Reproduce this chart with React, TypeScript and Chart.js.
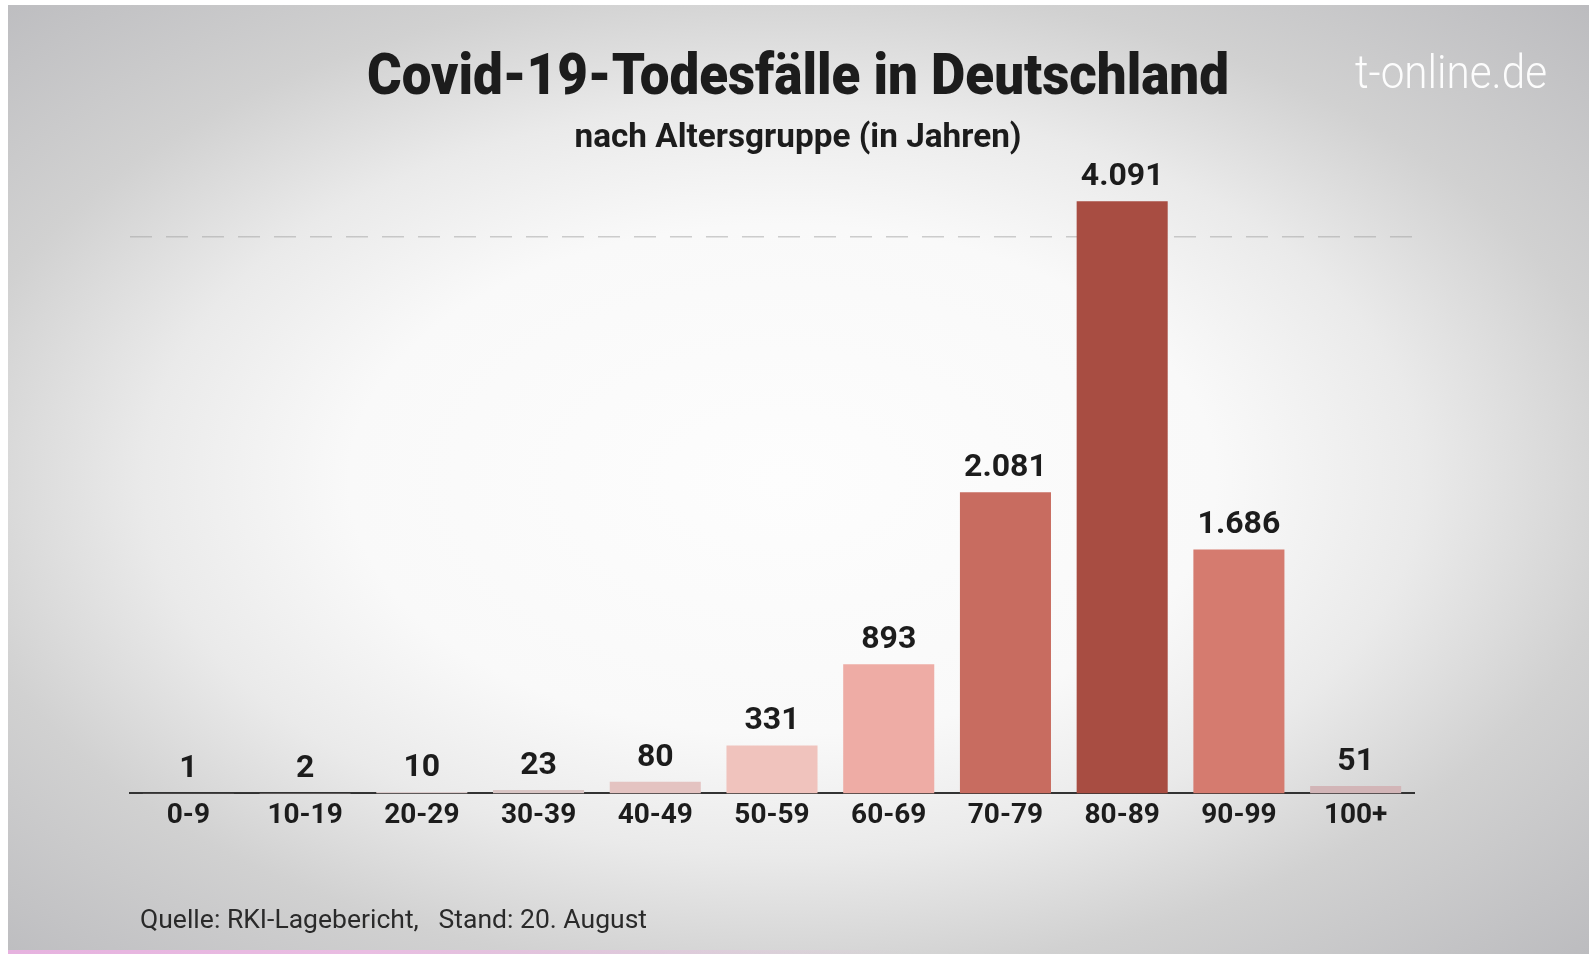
import React, { useEffect, useRef } from "react";
import { Chart, registerables } from "chart.js";

Chart.register(...registerables);

const ageGroups = ["0-9", "10-19", "20-29", "30-39", "40-49", "50-59", "60-69", "70-79", "80-89", "90-99", "100+"];
const deaths = [1, 2, 10, 23, 80, 331, 893, 2081, 4091, 1686, 51];
const barColors = ["#d9c9c9", "#d9c9c9", "#d9c9c9", "#d8c4c3", "#e4c3c1", "#f0c3bd", "#eeaca5", "#c86c60", "#a84d42", "#d57b6f", "#d2b5b7"];
const referenceLineValue = 3846;
const yMax = 4100;

const titleText = "Covid-19-Todesfälle in Deutschland";
const subtitleText = "nach Altersgruppe (in Jahren)";
const sourceText = "Quelle: RKI-Lagebericht,   Stand: 20. August";
const brandText = "t-online.de";

function formatDe(v: number): string {
  return String(v).replace(/\B(?=(\d{3})+(?!\d))/g, ".");
}

function drawFitted(ctx: CanvasRenderingContext2D, text: string, x: number, y: number, font: string, color: string, align: CanvasTextAlign, targetWidth?: number) {
  ctx.save();
  ctx.font = font;
  const w = ctx.measureText(text).width;
  const s = targetWidth ? targetWidth / w : 1;
  ctx.translate(x, y);
  ctx.scale(s, 1);
  ctx.textAlign = align;
  ctx.textBaseline = "middle";
  ctx.fillStyle = color;
  ctx.fillText(text, 0, 0);
  ctx.restore();
}

const textPlugin = {
  id: "textPlugin",
  afterDraw(chart: any) {
    const ctx = chart.ctx as CanvasRenderingContext2D;
    drawFitted(ctx, titleText, 798, 80, "900 57px Roboto", "#1c1c1c", "center", 862);
    drawFitted(ctx, subtitleText, 798, 138, "bold 34px Roboto", "#1c1c1c", "center", 447);
    drawFitted(ctx, sourceText, 140, 921, "26px Roboto", "#2a2a2a", "left", 507);
    drawFitted(ctx, brandText, 1355, 76, "300 46px Roboto", "rgba(255,255,255,0.95)", "left", 192);

    const meta = chart.getDatasetMeta(0);
    ctx.save();
    ctx.font = "bold 32px Roboto";
    ctx.fillStyle = "#1c1c1c";
    ctx.textAlign = "center";
    ctx.textBaseline = "alphabetic";
    meta.data.forEach((bar: any, i: number) => {
      ctx.fillText(formatDe(deaths[i]), bar.x, bar.y - 16);
    });
    ctx.restore();
  },
};

export default function App() {
  const canvasRef = useRef<HTMLCanvasElement | null>(null);

  useEffect(() => {
    if (!canvasRef.current) return;
    const chart = new Chart(canvasRef.current, {
      type: "bar",
      data: {
        labels: ageGroups,
        datasets: [
          {
            data: deaths,
            backgroundColor: barColors,
            borderWidth: 0,
            barPercentage: 0.78,
            categoryPercentage: 1,
          },
        ],
      },
      options: {
        animation: false,
        responsive: true,
        maintainAspectRatio: false,
        layout: { padding: { left: 130, right: 175, top: 200, bottom: 115 } },
        plugins: {
          legend: { display: false },
          tooltip: { enabled: false },
          title: { display: false },
        },
        scales: {
          x: {
            grid: { display: false, drawTicks: false },
            border: { display: true, color: "#333333", width: 2 },
            ticks: {
              color: "#1c1c1c",
              font: { family: "Roboto", weight: "bold", size: 28 },
              padding: 6,
              maxRotation: 0,
            },
          },
          y: {
            min: 0,
            max: yMax,
            display: true,
            border: { display: false, dash: [22, 14] },
            ticks: { display: false },
            grid: {
              drawTicks: false,
              color: "rgba(160,160,160,0.5)",
              lineWidth: 1.5,
            },
            afterBuildTicks: (scale: any) => {
              scale.ticks = [{ value: referenceLineValue }];
            },
          } as any,
        },
      },
      plugins: [textPlugin],
    } as any);
    return () => chart.destroy();
  }, []);

  return (
    <div style={{ position: "fixed", left: 0, top: 0, width: 1589, height: 954, background: "#ffffff", overflow: "hidden" }}>
      <div
        style={{
          position: "absolute",
          left: 8,
          top: 5,
          right: 0,
          bottom: 0,
          background:
            "radial-gradient(ellipse farthest-corner at 49% 50%, #fdfdfd 0%, #f9f9f9 38%, #eaeaea 56%, #d1d1d1 74%, #bcbcbf 100%)",
        }}
      />
      <div
        style={{
          position: "absolute",
          left: 8,
          bottom: 0,
          width: 900,
          height: 4,
          background: "linear-gradient(to right, #e6b2df 0%, #e9bde2 40%, rgba(235,210,230,0) 100%)",
        }}
      />
      <div style={{ position: "absolute", left: 0, top: 0, width: 1589, height: 954 }}>
        <canvas ref={canvasRef} />
      </div>
    </div>
  );
}
